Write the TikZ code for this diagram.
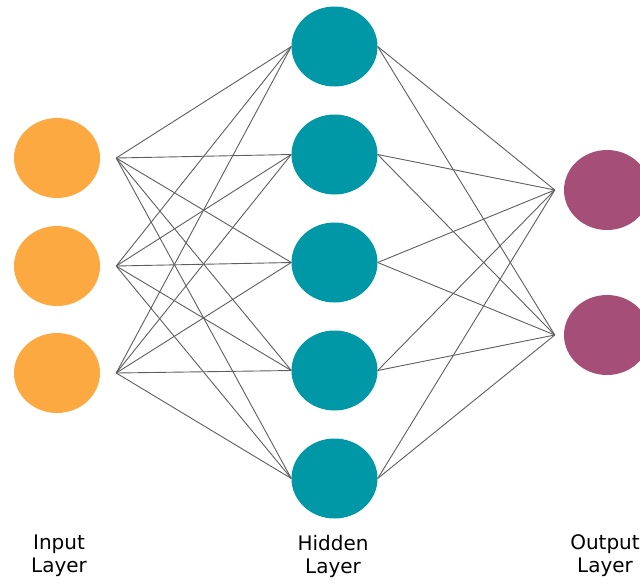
\documentclass[tikz,border=0pt]{standalone}
\usepackage{fontspec}
\usetikzlibrary{calc,positioning,shapes.geometric}
\newfontfamily\layerfont{DejaVu Sans}
\definecolor{nnorange}{HTML}{FDA942}
\definecolor{nnteal}{HTML}{0097A7}
\definecolor{nnplum}{HTML}{A54F78}
\definecolor{nnline}{HTML}{5E5E5E}

\begin{document}
\begin{tikzpicture}[
  x=1pt,y=-1pt,
  neuron/.style={ellipse,minimum width=86pt,minimum height=80pt,inner sep=0pt,draw=none},
  inneuron/.style={neuron,fill=nnorange},
  hidneuron/.style={neuron,fill=nnteal},
  outneuron/.style={neuron,fill=nnplum},
  wire/.style={draw=nnline,line width=.9pt},
  layerlabel/.style={font=\layerfont\fontsize{20}{23}\selectfont,align=center,text=black}
]
\useasboundingbox (0,0) rectangle (640,582);

% Input layer; the wires leave from a point just right of each circle.
\node[inneuron] (in1) at (57,158) {};
\node[inneuron] (in2) at (57,266) {};
\node[inneuron] (in3) at (57,373) {};
\coordinate[right=16pt of in1.east] (in1p);
\coordinate[right=16pt of in2.east] (in2p);
\coordinate[right=16pt of in3.east] (in3p);

% Hidden layer.
\node[hidneuron] (hid1) at (334.5,46.5) {};
\node[hidneuron] (hid2) at (334.5,154.5) {};
\node[hidneuron] (hid3) at (334.5,262.5) {};
\node[hidneuron] (hid4) at (334.5,370.5) {};
\node[hidneuron] (hid5) at (334.5,478.5) {};

% Output layer, cut by the right edge; wires meet left of each circle.
\node[outneuron] (out1) at (607,190) {};
\node[outneuron] (out2) at (607,335) {};
\coordinate[left=9pt of out1.west] (out1p);
\coordinate[left=9pt of out2.west] (out2p);

% Fully connected wiring.
\foreach \i in {1,2,3}
  \foreach \h in {1,...,5}
    \draw[wire] (in\i p) -- (hid\h.west);
\foreach \h in {1,...,5}
  \foreach \o in {1,2}
    \draw[wire] (hid\h.east) -- (out\o p);

\node[layerlabel] (inlab) at (59,556) {Input\\Layer};
\node[layerlabel] (hidlab) at (333,556) {Hidden\\Layer};
\node[layerlabel] (outlab) at (605,556) {Output\\Layer};
\end{tikzpicture}
\end{document}
